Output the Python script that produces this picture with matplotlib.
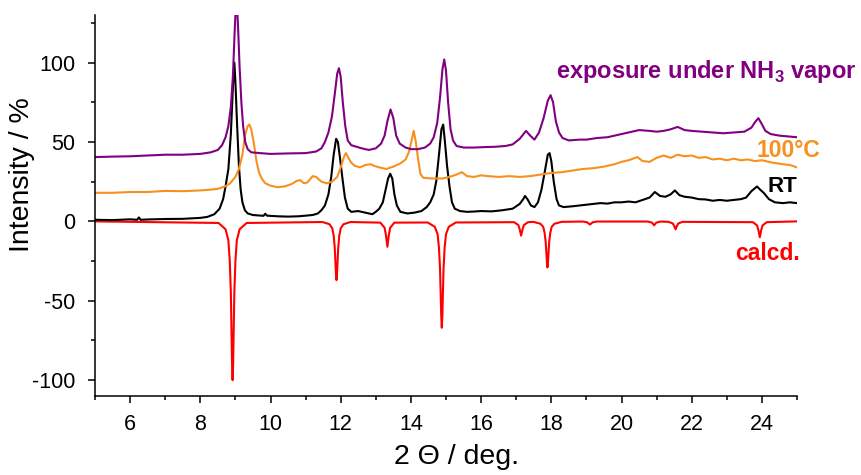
import matplotlib
matplotlib.use("Agg")
import matplotlib.pyplot as plt
from matplotlib.ticker import MultipleLocator

# --- data (2 theta in deg, intensity in %) ---
calcd_x = [5.0,
           8.52, 8.72, 8.80, 8.84, 8.87, 8.89, 8.905, 8.92, 8.935, 8.95, 8.97, 9.00, 9.04, 9.12, 9.32,
           11.48, 11.68, 11.76, 11.80, 11.83, 11.85, 11.865, 11.88, 11.895, 11.91, 11.93, 11.96, 12.00, 12.08, 12.28,
           13.13, 13.25, 13.29, 13.33, 13.37, 13.41, 13.53,
           14.48, 14.68, 14.76, 14.80, 14.83, 14.85, 14.865, 14.88, 14.895, 14.91, 14.93, 14.96, 15.00, 15.08, 15.28,
           16.94, 17.06, 17.10, 17.14, 17.18, 17.22, 17.34,
           17.49, 17.69, 17.77, 17.81, 17.84, 17.86, 17.875, 17.89, 17.905, 17.92, 17.94, 17.97, 18.01, 18.09, 18.29,
           18.90, 19.02, 19.10, 19.18, 19.30,
           20.75, 20.87, 20.93, 20.99, 21.11,
           21.34, 21.46, 21.50, 21.54, 21.58, 21.62, 21.74,
           23.74, 23.86, 23.90, 23.94, 23.98, 24.02, 24.14,
           25.0]
calcd_y = [0.0,
           -1, -5, -12, -25, -45, -70, -90, -100, -90, -70, -45, -25, -12, -5, -1,
           -0.4, -1.8, -4.4, -9, -16.5, -26, -33, -37, -33, -26, -16.5, -9, -4.4, -1.8, -0.4,
           -0.8, -4, -8.8, -16, -8.8, -4, -0.8,
           -0.7, -3.4, -8, -16.8, -30, -47, -60, -67, -60, -47, -30, -16.8, -8, -3.4, -0.7,
           -0.5, -2.3, -5, -9, -5, -2.3, -0.5,
           -0.3, -1.5, -3.5, -7.3, -13, -20, -26, -29, -26, -20, -13, -7.3, -3.5, -1.5, -0.3,
           -0.1, -0.6, -2, -0.6, -0.1,
           -0.1, -0.8, -2.5, -0.8, -0.1,
           -0.3, -1.3, -2.8, -5, -2.8, -1.3, -0.3,
           -0.5, -2.5, -5.5, -10, -5.5, -2.5, -0.5,
           0.0]

rt_x = [5.0, 5.5, 6.0, 6.2, 6.25, 6.3, 6.5, 7.0, 7.5, 7.8, 8.0, 8.2, 8.4, 8.55, 8.65, 8.72, 8.8, 8.87, 8.93,
        8.97, 9.0, 9.05, 9.1, 9.15, 9.2, 9.27, 9.35, 9.5, 9.8, 9.85, 9.9, 10.2, 10.5, 10.8, 11.0, 11.2, 11.35,
        11.45, 11.55, 11.65, 11.73, 11.8, 11.87, 11.92, 11.98, 12.05, 12.12, 12.2, 12.3, 12.5, 12.7, 12.9, 13.0,
        13.1, 13.2, 13.28, 13.35, 13.41, 13.47, 13.53, 13.6, 13.7, 13.9, 14.1, 14.3, 14.45, 14.55, 14.65, 14.72,
        14.8, 14.87, 14.92, 14.97, 15.03, 15.1, 15.17, 15.25, 15.4, 15.6, 15.8, 16.0, 16.3, 16.6, 16.9, 17.1,
        17.2, 17.25, 17.32, 17.42, 17.52, 17.62, 17.72, 17.82, 17.9, 17.95, 18.0, 18.07, 18.15, 18.22, 18.35,
        18.6, 18.8, 19.0, 19.2, 19.4, 19.6, 19.8, 20.0, 20.2, 20.4, 20.6, 20.8, 20.95, 21.1, 21.25, 21.4,
        21.52, 21.65, 21.8, 22.0, 22.2, 22.4, 22.6, 22.8, 23.0, 23.2, 23.4, 23.55, 23.7, 23.86, 23.95, 24.05,
        24.2, 24.37, 24.6, 24.8, 25.0]
rt_y = [1.0, 0.8, 1.3, 1.0, 2.5, 1.0, 1.2, 1.5, 1.6, 2.0, 2.2, 2.8, 4.5, 8, 14, 22, 33, 55, 85,
        100, 88, 60, 35, 20, 12, 7, 5, 4, 3.5, 4.8, 3.6, 3.2, 3.0, 3.2, 3.6, 4, 5,
        7, 10, 17, 28, 42, 52, 50, 40, 27, 15, 8, 6, 6.5, 5.5, 4.5, 6,
        8, 12, 20, 27, 30, 27, 17, 10, 6, 5, 5.5, 6.5, 9, 12, 17, 25,
        42, 58, 61, 50, 35, 22, 12, 8, 6.5, 6, 6.2, 6.5, 6.3, 7, 8, 11,
        14, 16, 14, 10, 9, 12, 20, 32, 42, 43, 38, 25, 14, 10, 9,
        9.5, 10, 10.5, 11, 11.5, 11.2, 12, 12, 12.5, 12, 13.5, 15, 18.5, 16, 15.5, 17,
        19.5, 16.5, 15.5, 15, 14, 13.8, 13, 13.5, 13, 13.5, 14, 15, 19, 22, 20, 18,
        14, 12, 11.5, 12, 11.5]

hot_x = [5.0, 5.5, 6.0, 6.5, 7.0, 7.5, 8.0, 8.3, 8.5, 8.7, 8.85, 9.0, 9.1, 9.2, 9.28, 9.35, 9.4, 9.45,
         9.52, 9.6, 9.67, 9.75, 9.85, 10.0, 10.2, 10.4, 10.6, 10.75, 10.85, 10.95, 11.05, 11.2, 11.3, 11.45,
         11.6, 11.75, 11.9, 12.0, 12.1, 12.15, 12.22, 12.3, 12.4, 12.55, 12.7, 12.85, 12.95, 13.1, 13.3, 13.5,
         13.7, 13.85, 13.95, 14.03, 14.08, 14.14, 14.2, 14.27, 14.35, 14.6, 14.9, 15.1, 15.3, 15.45, 15.6,
         15.8, 16.0, 16.2, 16.5, 16.8, 17.1, 17.4, 17.7, 18.0, 18.3, 18.6, 18.9, 19.2, 19.5, 19.8, 20.0, 20.2,
         20.45, 20.6, 20.8, 21.0, 21.2, 21.4, 21.6, 21.8, 22.0, 22.2, 22.4, 22.6, 22.8, 23.0, 23.2, 23.4, 23.6,
         23.8, 24.0, 24.3, 24.6, 24.8, 25.0]
hot_y = [18, 18, 18.5, 18.5, 19.2, 19, 19.5, 20, 20.5, 22, 24, 28, 33, 42, 55, 60, 61, 58,
         50, 38, 31, 27, 24, 22.5, 21.5, 22, 23.5, 25.5, 26, 24, 24.5, 28.5, 28, 25,
         24, 25, 28, 34, 41, 43, 40, 37, 35, 34, 35.5, 36, 35, 34, 33, 34.5,
         36.5, 39, 44, 52, 57, 50, 40, 30, 27.5, 27, 27, 28, 29.5, 31, 28.5,
         28, 29, 28.5, 28, 28.5, 28, 28.5, 29.5, 30.5, 31, 32, 33, 33.5, 34.5, 36, 37.5, 38.5,
         40.5, 38, 37.5, 40, 41.5, 40, 42, 41, 41.5, 40, 40.5, 39, 39.5, 38.5, 39.5, 38.5, 39,
         38, 38.5, 37, 36, 35.5, 34]

nh3_x = [5.0, 5.5, 6.0, 6.5, 7.0, 7.5, 8.0, 8.3, 8.5, 8.62, 8.72, 8.8, 8.87, 8.93, 8.98, 9.01, 9.05,
         9.08, 9.12, 9.17, 9.22, 9.28, 9.35, 9.45, 9.7, 10.0, 10.5, 11.0, 11.3, 11.45, 11.55, 11.65, 11.75,
         11.83, 11.9, 11.95, 12.0, 12.06, 12.13, 12.2, 12.3, 12.45, 12.6, 12.8, 13.0, 13.15, 13.25, 13.33,
         13.42, 13.5, 13.58, 13.68, 13.85, 14.0, 14.2, 14.4, 14.55, 14.65, 14.75, 14.83, 14.9, 14.95, 15.0,
         15.06, 15.13, 15.2, 15.3, 15.5, 15.8, 16.1, 16.4, 16.7, 16.9, 17.1, 17.28, 17.4, 17.52, 17.65, 17.78,
         17.9, 17.98, 18.05, 18.13, 18.22, 18.32, 18.5, 18.8, 19.0, 19.3, 19.6, 19.9, 20.2, 20.5, 20.8, 21.0,
         21.2, 21.4, 21.6, 21.8, 22.0, 22.3, 22.6, 22.9, 23.2, 23.5, 23.7, 23.82, 23.9, 23.98, 24.1, 24.25,
         24.5, 24.75, 25.0]
nh3_y = [40.5, 40.8, 41, 41.5, 42, 42, 42.5, 43.5, 45, 48, 53, 60, 72, 92, 120, 135, 135,
         120, 97, 75, 60, 50, 45.5, 43.5, 43, 42.5, 42.8, 43, 44, 46, 50, 56, 66,
         80, 93, 96.5, 91, 75, 60, 51, 48, 47, 46, 45, 46, 49, 54, 63,
         70.5, 65, 54, 49, 46.5, 45.5, 45.5, 46.5, 49, 53, 62, 78, 96, 102, 95,
         75, 58, 51, 47.5, 46.5, 46.5, 46.8, 47, 47.5, 48.5, 52, 57, 54, 51.5, 56, 65,
         76, 79.5, 75, 63, 56, 52.5, 51, 51.5, 51.5, 52.5, 53, 54.5, 56, 57.5, 57, 56.5,
         57, 58, 59.5, 57.5, 57, 56.5, 56, 55.5, 56, 56.5, 59, 63, 65, 62, 57, 55,
         54, 53.5, 53]

x_ticks = [6, 8, 10, 12, 14, 16, 18, 20, 22, 24]
y_ticks = [-100, -50, 0, 50, 100]

# couleurs
c_nh3 = "#800080"
c_hot = "#f7901e"
c_rt = "black"
c_calc = "#ff0000"

plt.rcParams["font.family"] = ["Liberation Sans", "DejaVu Sans"]
plt.rcParams["axes.unicode_minus"] = False
plt.rcParams["mathtext.fontset"] = "custom"
plt.rcParams["mathtext.rm"] = "Liberation Sans"
plt.rcParams["mathtext.bf"] = "Liberation Sans:bold"

fig = plt.figure(figsize=(8.61, 4.75), dpi=100)
ax = fig.add_axes([95/861, 79/475, 702/861, 381/475])

lw = 1.5
ax.plot(calcd_x, calcd_y, color=c_calc, lw=lw)
ax.plot(rt_x, rt_y, color=c_rt, lw=lw)
ax.plot(hot_x, hot_y, color=c_hot, lw=lw)
ax.plot(nh3_x, nh3_y, color=c_nh3, lw=lw)

ax.set_xlim(5, 25)
ax.set_ylim(-110, 130)
ax.set_xticks(x_ticks)
ax.set_yticks(y_ticks)
ax.xaxis.set_minor_locator(MultipleLocator(1))
ax.yaxis.set_minor_locator(MultipleLocator(25))

for s in ["top", "right"]:
    ax.spines[s].set_visible(False)
for s in ["left", "bottom"]:
    ax.spines[s].set_linewidth(1.1)

ax.tick_params(which="major", direction="out", length=5, width=1.1, labelsize=15.5)
ax.tick_params(axis="y", which="major", pad=9)
ax.tick_params(axis="x", which="major", pad=8)
ax.tick_params(which="minor", direction="out", length=3, width=1.1)

ax.set_xlabel("2 \u0398 / deg.", fontsize=20.5)
ax.set_ylabel("Intensity / %", fontsize=20.5)
ax.xaxis.set_label_coords(0.515, -0.125)
ax.yaxis.set_label_coords(-0.085, 0.58)

# étiquettes des courbes
ax.text(18.12, 90.5, "exposure under NH$_\\mathbf{3}$ vapor", color=c_nh3, fontsize=17,
        fontweight="bold", va="baseline", clip_on=False)
ax.text(23.86, 40.6, "100\u00b0C", color=c_hot, fontsize=16.5, fontweight="bold", va="baseline",
        clip_on=False)
ax.text(24.17, 18.5, "RT", color=c_rt, fontsize=16, fontweight="bold", va="baseline", clip_on=False)
ax.text(23.25, -24.2, "calcd.", color=c_calc, fontsize=16.5, fontweight="bold", va="baseline",
        clip_on=False)

fig.savefig("out.png", dpi=100)
